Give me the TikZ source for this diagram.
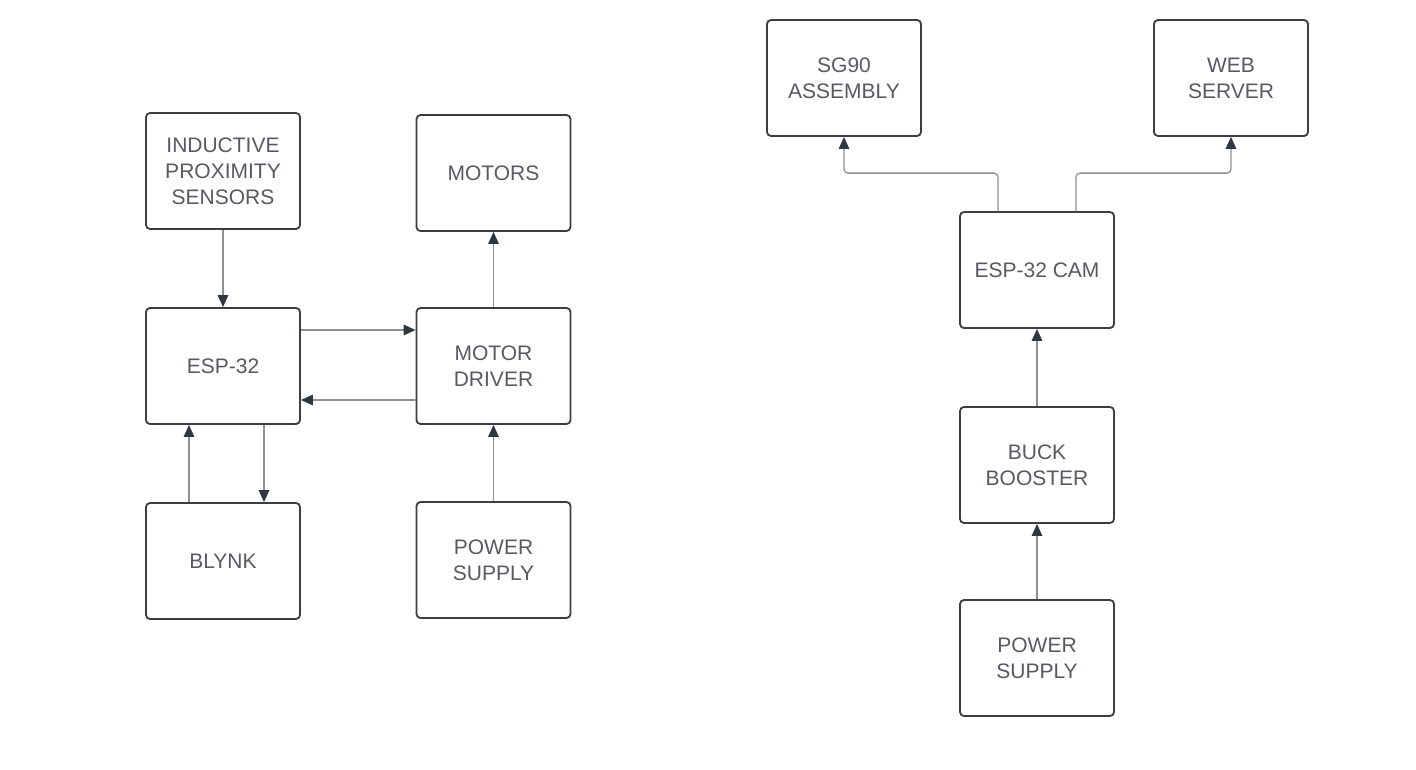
\documentclass[tikz,border=0pt]{standalone}
\usepackage{fontspec}
\setmainfont{Liberation Sans}
\usetikzlibrary{arrows.meta,calc}
\definecolor{boxline}{HTML}{3A3D42}
\definecolor{wire}{HTML}{8C8F94}
\definecolor{tip}{HTML}{2F3741}
\definecolor{txt}{HTML}{565A62}
\tikzset{
  blk/.style={draw=boxline, line width=1.8pt, rounded corners=4pt, minimum width=154pt, minimum height=116pt,
    align=center, text=txt, font=\fontsize{21}{26}\selectfont, inner sep=0pt},
  conn/.style={draw=wire, line width=1.3pt, -{Triangle[length=12pt,width=10.5pt,color=tip]}},
}
\begin{document}
\begin{tikzpicture}[x=1pt,y=-1pt]
\useasboundingbox[fill=white] (0,0) rectangle (1416,769);
% left diagram
\node[blk] (ind) at (223,171) {INDUCTIVE\\PROXIMITY\\SENSORS};
\node[blk] (motors) at (493.5,173) {MOTORS};
\node[blk] (esp) at (223,366) {ESP-32};
\node[blk] (drv) at (493.5,366) {MOTOR\\DRIVER};
\node[blk] (blynk) at (223,561) {BLYNK};
\node[blk] (psl) at (493.5,560) {POWER\\SUPPLY};
% right diagram
\node[blk] (sg) at (844,78) {SG90\\ASSEMBLY};
\node[blk] (web) at (1231,78) {WEB\\SERVER};
\node[blk] (cam) at (1037,270) {ESP-32 CAM};
\node[blk] (buck) at (1037,465) {BUCK\\BOOSTER};
\node[blk] (psr) at (1037,658) {POWER\\SUPPLY};
% connectors left
\draw[conn] (ind.south) -- (esp.north);
\draw[conn] ([yshift=36pt]esp.east) -- ([yshift=36pt]drv.west);
\draw[conn] ([yshift=-34pt]drv.west) -- ([yshift=-34pt]esp.east);
\draw[conn] (drv.north) -- (motors.south);
\draw[conn] (psl.north) -- (drv.south);
\draw[conn] ([xshift=-34pt]blynk.north) -- ([xshift=-34pt]esp.south);
\draw[conn] ([xshift=41pt]esp.south) -- ([xshift=41pt]blynk.north);
% connectors right
\draw[conn] (psr.north) -- (buck.south);
\draw[conn] (buck.north) -- (cam.south);
\draw[conn, rounded corners=4pt] ([xshift=-39pt]cam.north) -- ([xshift=-39pt,yshift=38pt]cam.north) -| (sg.south);
\draw[conn, rounded corners=4pt] ([xshift=39pt]cam.north) -- ([xshift=39pt,yshift=38pt]cam.north) -| (web.south);
\end{tikzpicture}
\end{document}
